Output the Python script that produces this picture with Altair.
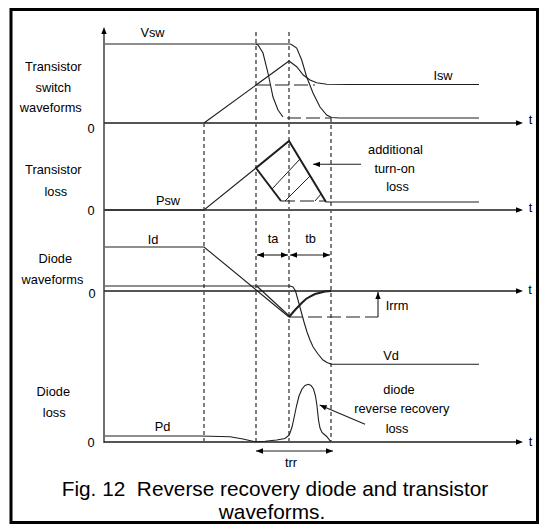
import altair as alt
import pandas as pd
import math

# ---------------- waveform samples (figure units) ----------------
# Row 1 - transistor switch waveforms
vsw_t = [105, 289, 291, 296.7, 301.7, 306.7, 313, 320, 326.7, 331.7, 340, 479]
vsw_y = [44, 44, 44.3, 48, 60, 77, 93, 107, 115, 117.5, 118, 118]
vsw_ideal_t = [256, 258, 263, 268, 273, 278, 283]
vsw_ideal_y = [44, 45, 53, 73, 97, 110, 117]
vsw_tail_t = [287, 331]
vsw_tail_y = [118, 118]
isw_t = [204, 289, 296.7, 303.3, 310, 316.7, 326.7, 350, 479]
isw_y = [123, 61, 66.7, 75, 80, 82.7, 84.3, 84.5, 84.5]
isw_ideal_t = [256, 315]
isw_ideal_y = [85, 85]

# Row 2 - transistor loss
psw_t = [105, 204, 256]
psw_y = [210, 210, 168]
loss_t = [281, 256, 289, 326]
loss_y = [201, 168, 141, 202]
psw_after_t = [326, 479]
psw_after_y = [202, 202]
loss_base_t = [281, 326]
loss_base_y = [201, 201]
hatch_t1 = [272, 285, 315]
hatch_y1 = [189, 201, 201]
hatch_t2 = [300, 310, 321]
hatch_y2 = [159, 176, 194]

# Row 3 - diode waveforms
id_t = [105, 204, 289]
id_y = [247, 247, 317]
id2_t = [256.7, 289.3]
id2_y = [286, 316]
irr_t = [289, 295, 301.7, 306, 310, 315, 320, 325, 331]
irr_y = [317, 310, 303, 299, 296.7, 294, 292.7, 291.5, 291]
vd_t = [105, 290, 293, 295.5, 298, 301, 304, 307, 310, 313, 318, 323, 327, 331.3, 479]
vd_y = [286, 286, 287, 291, 300, 311, 322, 332, 340, 346.7, 354, 360, 362.5, 364.3, 364.3]
irrm_t = [289, 378]
irrm_y = [317, 317]

# Row 4 - diode loss
pd_t = [105, 200, 230, 243, 255, 265, 276.7, 285, 289.3, 292, 294, 296.5, 299, 302, 305,
        308.5, 311, 313.5, 315.5, 317, 318.5, 320, 322, 326.7, 330.7]
pd_y = [436, 436, 436.7, 439, 441.7, 441.2, 440, 438.5, 435, 427, 418, 406, 396, 389, 385.5,
        384.3, 385.5, 389, 396, 406, 420, 428, 432.5, 436.5, 441.7]

# axes and markers
zero_levels = [123, 210, 291, 442]
axis_start, axis_end, axis_tip = 104, 517, 523
yaxis_t, yaxis_bottom, yaxis_top, yaxis_tip = 104, 443, 33, 27
vdash_t = [204, 256, 289, 331]
vdash_top = [123, 32, 32, 118]
vdash_bottom = 443

# interval arrows (ta, tb, trr)
span_t1 = [257, 290, 256]
span_t2 = [288, 330, 333]
span_y = [255, 255, 451]

# pointer arrows: tail -> tip
ptr_t1 = [361, 365, 378]
ptr_y1 = [164.3, 424.3, 317]
ptr_t2 = [313, 319.7, 378]
ptr_y2 = [164.3, 405, 292]

# text
txt = ["Transistor", "switch", "waveforms", "Transistor", "loss", "Diode", "waveforms",
       "Diode", "loss", "0", "0", "0", "0", "t", "t", "t", "t",
       "Vsw", "Isw", "Psw", "Id", "Vd", "Pd", "Irrm", "ta", "tb", "trr",
       "additional", "turn-on", "loss", "diode", "reverse recovery", "loss"]
txt_t = [53.3, 53.3, 50.8, 53.3, 55.8, 55.3, 52.5, 53.3, 54.2, 91, 91, 92, 91,
         530.5, 530.5, 530, 530.5,
         152.5, 443, 168, 153, 391, 162.5, 397, 273, 310.5, 291,
         395.5, 394.7, 397.5, 399, 401.8, 397]
txt_y = [66.7, 88.3, 108.3, 170, 191.7, 259, 280, 392, 413, 129, 211, 294, 442.5,
         120, 208, 290, 442,
         32.5, 76, 200.5, 240, 356, 427, 306, 239, 239, 463,
         150, 169, 186.7, 390, 409, 429]
caption = ["Fig. 12\u00a0 Reverse recovery diode and transistor", "waveforms."]
caption_t = [275, 272]
caption_y = [490, 512.5]

# frame
frame_t = [11, 537.5]
frame_y = [9.5, 522.5]

# ---------------- build tables ----------------
def poly(rows, name, ts, ys):
    for k, (a, b) in enumerate(zip(ts, ys)):
        rows.append(dict(series=name, i=k, t=a, y=b))
    return rows

thin = []
poly(thin, "vsw", vsw_t, vsw_y)
poly(thin, "vsw_ideal", vsw_ideal_t, vsw_ideal_y)
poly(thin, "isw", isw_t, isw_y)
poly(thin, "psw", psw_t, psw_y)
poly(thin, "psw_after", psw_after_t, psw_after_y)
poly(thin, "id", id_t, id_y)
poly(thin, "id2", id2_t, id2_y)
poly(thin, "vd", vd_t, vd_y)
poly(thin, "pd", pd_t, pd_y)
thick = []
poly(thick, "loss", loss_t, loss_y)
poly(thick, "irr", irr_t, irr_y)
dashed = []
poly(dashed, "vsw_tail", vsw_tail_t, vsw_tail_y)
poly(dashed, "isw_ideal", isw_ideal_t, isw_ideal_y)
poly(dashed, "loss_base", loss_base_t, loss_base_y)
poly(dashed, "irrm", irrm_t, irrm_y)

PW, PH = 531, 516
xs = alt.Scale(domain=[8, 8 + PW], nice=False, zero=False)
ys = alt.Scale(domain=[8, 8 + PH], nice=False, zero=False, reverse=True)
X = lambda f: alt.X(f, type="quantitative", scale=xs, axis=None)
Y = lambda f: alt.Y(f, type="quantitative", scale=ys, axis=None)
X2 = lambda f: alt.X2(f)
Y2 = lambda f: alt.Y2(f)

INK = "#1e1e1e"

def lines(rows, **kw):
    return alt.Chart(pd.DataFrame(rows)).mark_line(color=INK, **kw).encode(
        x=X("t"), y=Y("y"), detail="series:N", order=alt.Order("i:Q"))

layers = []
# frame
layers.append(alt.Chart(pd.DataFrame([dict(t=frame_t[0], t2=frame_t[1], y=frame_y[0], y2=frame_y[1])]))
              .mark_rect(fillOpacity=0, stroke="black", strokeWidth=3)
              .encode(x=X("t"), x2=X2("t2"), y=Y("y"), y2=Y2("y2")))
# vertical dashed guides
layers.append(alt.Chart(pd.DataFrame(dict(t=vdash_t, y=vdash_top, y2=[vdash_bottom] * 4)))
              .mark_rule(color="#555", strokeWidth=1.5, strokeDash=[4, 3])
              .encode(x=X("t"), y=Y("y"), y2=Y2("y2")))
# t axes
layers.append(alt.Chart(pd.DataFrame(dict(t=[axis_start] * 4, t2=[axis_end] * 4, y=zero_levels)))
              .mark_rule(color="#555", strokeWidth=2)
              .encode(x=X("t"), x2=X2("t2"), y=Y("y")))
# y axis
layers.append(alt.Chart(pd.DataFrame(dict(t=[yaxis_t], y=[yaxis_bottom], y2=[yaxis_top])))
              .mark_rule(color="#333", strokeWidth=1.4)
              .encode(x=X("t"), y=Y("y"), y2=Y2("y2")))
# waveforms
layers.append(lines(thin, strokeWidth=1.1))
layers.append(lines(thick, strokeWidth=2))
layers.append(lines(dashed, strokeWidth=1.2, strokeDash=[14, 5]))
# hatch
layers.append(alt.Chart(pd.DataFrame(dict(t=hatch_t1, y=hatch_y1, t2=hatch_t2, y2=hatch_y2)))
              .mark_rule(color=INK, strokeWidth=1)
              .encode(x=X("t"), y=Y("y"), x2=X2("t2"), y2=Y2("y2")))
# interval arrows and pointer arrow shafts
layers.append(alt.Chart(pd.DataFrame(dict(t=span_t1, t2=span_t2, y=span_y)))
              .mark_rule(color=INK, strokeWidth=1.1)
              .encode(x=X("t"), x2=X2("t2"), y=Y("y")))
layers.append(alt.Chart(pd.DataFrame(dict(t=ptr_t1, y=ptr_y1, t2=ptr_t2, y2=ptr_y2)))
              .mark_rule(color=INK, strokeWidth=1.1)
              .encode(x=X("t"), y=Y("y"), x2=X2("t2"), y2=Y2("y2")))
# arrow heads
heads = []
for yy in zero_levels:
    heads.append(dict(t=axis_tip, y=yy, ang=0))
heads.append(dict(t=yaxis_t, y=yaxis_tip, ang=270))
for a, b, yy in zip(span_t1, span_t2, span_y):
    heads.append(dict(t=a, y=yy, ang=180))
    heads.append(dict(t=b, y=yy, ang=0))
for a1, b1, a2, b2 in zip(ptr_t1, ptr_y1, ptr_t2, ptr_y2):
    ang = math.degrees(math.atan2(b2 - b1, a2 - a1)) % 360
    heads.append(dict(t=a2, y=b2, ang=ang))
layers.append(alt.Chart(pd.DataFrame(heads))
              .mark_point(shape="M0,0L-1,-0.38L-1,0.38Z", filled=True, opacity=1, size=196,
                          color="black", strokeWidth=0)
              .encode(x=X("t"), y=Y("y"), angle=alt.Angle("ang:Q", scale=None)))
# labels
layers.append(alt.Chart(pd.DataFrame(dict(s=txt, t=txt_t, y=txt_y)))
              .mark_text(font="Liberation Sans", fontSize=12.8, color="black", baseline="middle", align="center")
              .encode(x=X("t"), y=Y("y"), text="s:N"))
layers.append(alt.Chart(pd.DataFrame(dict(s=caption, t=caption_t, y=caption_y)))
              .mark_text(font="Liberation Sans", fontSize=20.8, color="black", baseline="middle", align="center")
              .encode(x=X("t"), y=Y("y"), text="s:N"))

chart = alt.layer(*layers).properties(width=PW, height=PH, padding=0).configure_view(strokeWidth=0)
chart.save("out.html", embed_options={"renderer": "svg", "actions": False})
